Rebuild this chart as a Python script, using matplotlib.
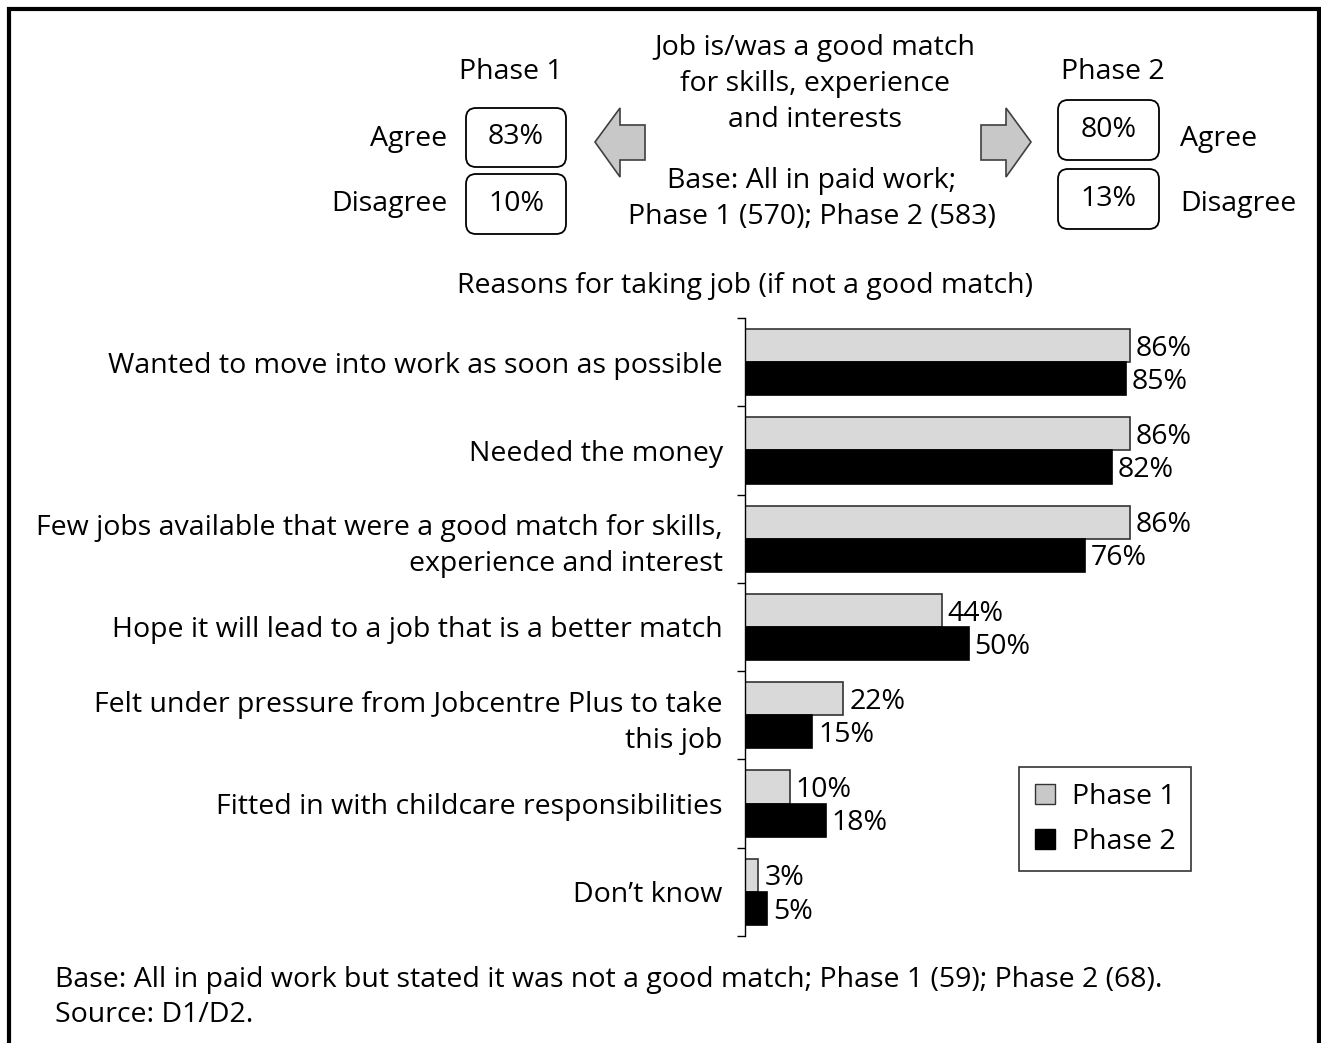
import matplotlib
matplotlib.use("Agg")
import matplotlib.pyplot as plt
from matplotlib.patches import FancyBboxPatch, Polygon, Patch
import numpy as np

plt.rcParams['font.family'] = ['Open Sans', 'DejaVu Sans']

reasons = [
    "Wanted to move into work as soon as possible",
    "Needed the money",
    "Few jobs available that were a good match for skills,\nexperience and interest",
    "Hope it will lead to a job that is a better match",
    "Felt under pressure from Jobcentre Plus to take\nthis job",
    "Fitted in with childcare responsibilities",
    "Don\u2019t know",
]
phase1 = [86, 86, 86, 44, 22, 10, 3]
phase2 = [85, 82, 76, 50, 15, 18, 5]

match_agree = [83, 80]
match_disagree = [10, 13]

W, H = 1321, 1043
FS = 20.5
LS = 1.37
fig = plt.figure(figsize=(W / 100, H / 100), dpi=100)

# overlay in pixel units for the header boxes, arrows and frame
ov = fig.add_axes([0, 0, 1, 1])
ov.set_xlim(0, W)
ov.set_ylim(H, 0)
ov.axis('off')

ov.plot([9, 9, 1319, 1319], [H + 5, 9, 9, H + 5], color='black', lw=3,
        solid_joinstyle='miter')


def rbox(x0, y0, x1, y1, txt):
    ov.add_patch(FancyBboxPatch((x0 + 10, y0 + 10), x1 - x0 - 20, y1 - y0 - 20,
                                boxstyle="round,pad=10", fc='white', ec='black', lw=1.3))
    ov.text((x0 + x1) / 2, (y0 + y1) / 2, txt, ha='center', va='center', fontsize=FS)


# Phase 1 side
ov.text(511, 72, "Phase 1", ha='center', va='center', fontsize=FS)
rbox(466, 108, 566, 167, f"{match_agree[0]}%")
rbox(466, 174, 566, 234, f"{match_disagree[0]}%")
ov.text(447, 139, "Agree", ha='right', va='center', fontsize=FS)
ov.text(447, 204, "Disagree", ha='right', va='center', fontsize=FS)

# Phase 2 side
ov.text(1113, 72, "Phase 2", ha='center', va='center', fontsize=FS)
rbox(1058, 100, 1159, 160, f"{match_agree[1]}%")
rbox(1058, 169, 1159, 229, f"{match_disagree[1]}%")
ov.text(1180, 139, "Agree", ha='left', va='center', fontsize=FS)
ov.text(1180, 204, "Disagree", ha='left', va='center', fontsize=FS)

# arrows
left_arrow = [(595, 142), (620, 108), (620, 125), (645, 125), (645, 160), (620, 160), (620, 177)]
right_arrow = [(1031, 142), (1006, 108), (1006, 125), (981, 125), (981, 160), (1006, 160), (1006, 177)]
for pts in (left_arrow, right_arrow):
    ov.add_patch(Polygon(pts, closed=True, fc='#c8c8c8', ec='#404040', lw=1.2))

ov.text(815, 84, "Job is/was a good match\nfor skills, experience\nand interests",
        ha='center', va='center', fontsize=FS, linespacing=LS)
ov.text(812, 199, "Base: All in paid work;\nPhase 1 (570); Phase 2 (583)",
        ha='center', va='center', fontsize=FS, linespacing=LS)

ov.text(745, 286, "Reasons for taking job (if not a good match)",
        ha='center', va='center', fontsize=FS)

ov.text(55, 980, "Base: All in paid work but stated it was not a good match; Phase 1 (59); Phase 2 (68).",
        ha='left', va='center', fontsize=FS)
ov.text(55, 1015, "Source: D1/D2.", ha='left', va='center', fontsize=FS)

# bar chart
ax_left, ax_top, ax_bottom = 745, 318, 936
ax_w = 447.7
ax = fig.add_axes([ax_left / W, 1 - ax_bottom / H, ax_w / W, (ax_bottom - ax_top) / H])
ax.patch.set_alpha(0)

y = np.arange(len(reasons))
h = 0.375
nudge = 0.035
ax.barh(y - h / 2, phase1, height=h, color='#d9d9d9', edgecolor='#333333', lw=1.2)
ax.barh(y + h / 2, phase2, height=h, color='black', edgecolor='black', lw=1.2)
for yi, v1, v2 in zip(y, phase1, phase2):
    ax.text(v1 + 1.3, yi - h / 2 + nudge, f"{v1}%", ha='left', va='center', fontsize=FS)
    ax.text(v2 + 1.3, yi + h / 2 + nudge, f"{v2}%", ha='left', va='center', fontsize=FS)

ax.set_xlim(0, 100)
ax.set_ylim(len(reasons) - 0.5, -0.5)
ax.set_xticks([])
ax.set_yticks(np.arange(-0.5, len(reasons)), labels=[])
ax.set_yticks(y, labels=reasons, minor=True)
ax.tick_params(axis='y', which='major', direction='out', length=6, width=1)
ax.tick_params(axis='y', which='minor', length=0, pad=16, labelsize=FS)
for lbl in ax.get_yticklabels(minor=True):
    lbl.set_linespacing(LS)
for s in ('top', 'right', 'bottom'):
    ax.spines[s].set_visible(False)
ax.spines['left'].set_linewidth(1)

leg = ax.legend(handles=[Patch(fc='#c8c8c8', ec='#333333', label='Phase 1'),
                         Patch(fc='black', ec='black', label='Phase 2')],
                loc='upper left', bbox_to_anchor=(1019 / W, 1 - 767 / H),
                bbox_transform=fig.transFigure, fontsize=FS, frameon=True,
                fancybox=False, borderaxespad=0, handlelength=0.7, handleheight=0.7,
                handletextpad=0.6, borderpad=0.55, labelspacing=0.6)
leg.get_frame().set_edgecolor('black')
leg.get_frame().set_linewidth(1.2)

fig.savefig("out.png", dpi=100)
